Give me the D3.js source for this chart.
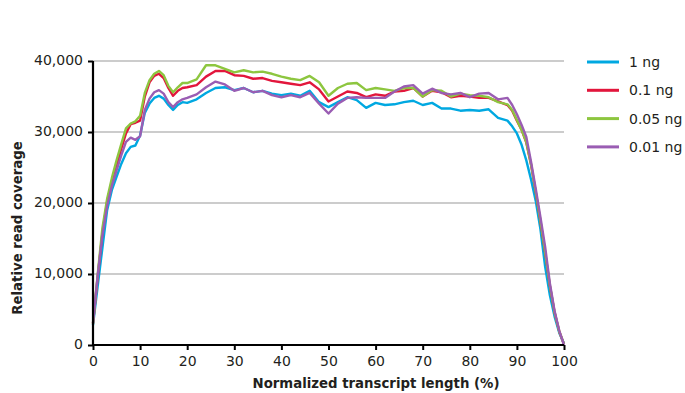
<!DOCTYPE html>
<html>
<head>
<meta charset="UTF-8">
<title>Coverage</title>
<script src="https://d3js.org/d3.v7.min.js"></script>
<style>
  body { margin: 0; background: #fff; }
  svg text { font-family: "DejaVu Sans", Verdana, sans-serif; fill: #231f20; }
</style>
</head>
<body>
<div id="chart"></div>
<script>
/*global d3*/

// normalized transcript position (%)
var positions = [0,1,2,3,4,5,6,7,8,9,10,11,12,13,14,15,16,17,18,19,20,
  22,24,26,28,30,32,34,36,38,40,42,44,46,48,50,52,54,56,58,60,62,64,66,68,70,
  72,74,76,78,80,82,84,86,88,89,90,91,92,93,94,95,96,97,98,99,100];

// coverage values, thousands
var ng1 = [2.8,8.3,13.7,19.0,21.8,23.7,25.5,27.0,27.9,28.1,29.5,32.7,34.0,34.8,35.1,34.7,33.8,33.1,33.8,34.2,34.1,
  34.6,35.5,36.2,36.3,35.9,36.2,35.6,35.8,35.4,35.2,35.4,35.1,35.8,34.2,33.5,34.2,34.9,34.5,33.4,34.1,33.8,33.9,34.2,34.4,33.8,
  34.1,33.3,33.3,33.0,33.1,33.0,33.2,32.0,31.6,30.8,29.8,28.2,26.0,23.3,20.3,16.3,11.0,7.0,4.0,1.7,0.2];
var ng01 = [3.0,9.6,15.8,20.2,23.0,25.3,27.6,29.8,31.1,31.3,31.6,35.0,37.0,37.9,38.2,37.6,36.2,35.1,35.8,36.2,36.3,
  36.6,37.8,38.6,38.6,38.0,37.9,37.5,37.6,37.2,37.0,36.8,36.6,37.0,36.0,34.3,35.0,35.7,35.5,34.9,35.3,35.1,35.7,35.8,36.2,35.0,
  35.8,35.6,34.9,35.1,35.0,34.8,34.8,34.3,33.8,33.0,31.6,30.3,28.5,25.4,21.5,17.4,13.0,8.3,4.6,1.9,0.1];
var ng005 = [3.0,10.0,16.5,20.6,23.5,26.0,28.3,30.5,31.2,31.5,32.3,35.5,37.3,38.2,38.6,38.0,36.5,35.6,36.3,36.9,36.9,
  37.4,39.4,39.4,38.9,38.4,38.7,38.4,38.5,38.2,37.8,37.5,37.3,37.9,37.0,35.1,36.2,36.8,36.9,35.9,36.2,36.0,35.8,36.2,36.2,35.0,
  35.9,35.8,35.0,35.4,35.2,35.1,34.9,34.2,33.9,33.1,31.7,30.3,28.6,25.5,21.6,17.5,13.1,8.4,4.6,1.9,0.1];
var ng001 = [3.1,9.8,15.5,19.6,22.4,24.6,26.7,28.6,29.2,28.9,29.4,33.1,34.7,35.6,35.9,35.4,34.2,33.5,34.2,34.6,34.8,
  35.3,36.3,37.1,36.7,35.8,36.2,35.6,35.8,35.2,34.9,35.2,34.9,35.5,34.0,32.6,34.0,34.8,34.9,34.8,34.8,34.8,35.7,36.4,36.6,35.4,
  36.1,35.5,35.3,35.5,34.9,35.4,35.5,34.6,34.8,33.8,32.5,31.0,29.3,25.8,22.0,18.0,13.8,8.7,4.8,2.0,0.0];

var seriesNames = ["1 ng", "0.1 ng", "0.05 ng", "0.01 ng"];
var seriesColors = ["#00a8e1", "#e2163c", "#8dc63f", "#9a5db3"];
var seriesValues = [ng1, ng01, ng005, ng001];

var xTicks = [0,10,20,30,40,50,60,70,80,90,100];
var yTicks = [0,10000,20000,30000,40000];

var width = 685, height = 393;
var margin = {left: 93, right: 121, top: 61, bottom: 48};

var svg = d3.select("#chart").append("svg")
  .attr("width", width)
  .attr("height", height);

var x = d3.scaleLinear().domain([0, 100]).range([margin.left, width - margin.right]);
var y = d3.scaleLinear().domain([0, 40000]).range([height - margin.bottom, margin.top]);

// gridlines
svg.append("g")
  .selectAll("line")
  .data(yTicks.filter(function(d) { return d > 0; }))
  .enter().append("line")
  .attr("x1", x(0)).attr("x2", x(100))
  .attr("y1", function(d) { return y(d); })
  .attr("y2", function(d) { return y(d); })
  .attr("stroke", "#cccccc")
  .attr("stroke-width", 2);

// lines
var line = d3.line()
  .x(function(d) { return x(d[0]); })
  .y(function(d) { return y(d[1] * 1000); });

svg.append("g").selectAll("path")
  .data(seriesValues)
  .enter().append("path")
  .attr("fill", "none")
  .attr("stroke", function(d, i) { return seriesColors[i]; })
  .attr("stroke-width", 2.4)
  .attr("stroke-linejoin", "round")
  .attr("d", function(vals) {
    return line(positions.map(function(p, j) { return [p, vals[j]]; }));
  });

// axes
var yAxis = svg.append("g")
  .attr("transform", "translate(" + margin.left + ",0)")
  .call(d3.axisLeft(y).tickValues(yTicks).tickSize(5).tickPadding(5)
    .tickFormat(d3.format(",")));
var xAxis = svg.append("g")
  .attr("transform", "translate(0," + (height - margin.bottom) + ")")
  .call(d3.axisBottom(x).tickValues(xTicks).tickSize(5).tickPadding(6));

[xAxis, yAxis].forEach(function(g) {
  g.select(".domain").attr("stroke", "#000").attr("stroke-width", 2.2);
  g.selectAll(".tick line").attr("stroke", "#000").attr("stroke-width", 2);
  g.selectAll(".tick text")
    .attr("fill", "#231f20")
    .style("font-size", "14px")
    .style("font-family", "'DejaVu Sans', Verdana, sans-serif");
});
yAxis.select(".domain").attr("d", "M0," + y(0) + "V" + y(40000));
xAxis.select(".domain").attr("d", "M" + x(0) + ",0H" + x(100));
yAxis.selectAll(".tick text").attr("dy", "0.22em");

// axis titles
svg.append("text")
  .attr("x", 376).attr("y", 388)
  .attr("text-anchor", "middle")
  .style("font-size", "13.3px")
  .style("font-weight", "bold")
  .text("Normalized transcript length (%)");

svg.append("text")
  .attr("transform", "translate(22,228) rotate(-90)")
  .attr("text-anchor", "middle")
  .style("font-size", "13.3px")
  .style("font-weight", "bold")
  .text("Relative read coverage");

// legend
var legend = svg.append("g").selectAll("g")
  .data(seriesNames)
  .enter().append("g")
  .attr("transform", function(d, i) { return "translate(587," + (62 + i * 28.3) + ")"; });
legend.append("line")
  .attr("x1", 0).attr("x2", 32)
  .attr("stroke", function(d, i) { return seriesColors[i]; })
  .attr("stroke-width", 3);
legend.append("text")
  .attr("x", 42).attr("dy", "0.36em")
  .style("font-size", "14px")
  .text(function(d) { return d; });
</script>
</body>
</html>
